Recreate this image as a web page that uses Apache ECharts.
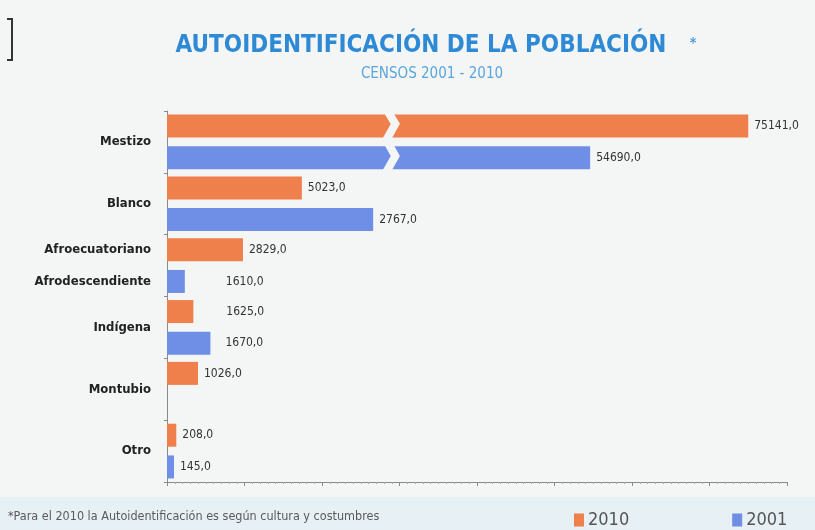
<!DOCTYPE html>
<html>
<head>
<meta charset="utf-8">
<script src="https://cdn.jsdelivr.net/npm/echarts@6/dist/echarts.min.js"></script>
<style>
  html, body { margin: 0; padding: 0; background: #f4f5f5; }
  #main { width: 815px; height: 530px; }
</style>
</head>
<body>
<div id="main"></div>
<script>
'use strict';

// categorias (la fila afro reune los dos nombres)
var categories = ['Mestizo', 'Blanco', 'Afroecuatoriano\nAfrodescendiente', 'Indígena', 'Montubio', 'Otro'];

// cifras impresas junto a cada barra
var printed2010 = [75141.0, 5023.0, 2829.0, 1625.0, 1026.0, 208.0];
var printed2001 = [54690.0, 2767.0, 1610.0, 1670.0, null, 145.0];

// largo de las barras tal como estan dibujadas (unidades del eje sin rotulos, 0-8)
var drawn2010 = [7.50, 1.74, 0.98, 0.34, 0.40, 0.12];
var drawn2001 = [5.46, 2.66, 0.23, 0.56, null, 0.09];

var seriesNames = ['2010', '2001'];

var FONT = '"Liberation Sans Narrow", "DejaVu Sans Condensed", "Liberation Sans", sans-serif';

function fmt(v) {
	return v.toFixed(1).replace('.', ',');
}

// algunas etiquetas van alineadas algo mas a la derecha
var labelShift2001 = { 2: 35, 3: 9 };
var labelShift2010 = { 3: 27 };

function buildData(drawn, printed, shift) {
	var res = [];
	for (var i = 0; i < drawn.length; i++) {
		if (drawn[i] == null) {
			res.push('-');
			continue;
		}
		var item = { value: drawn[i], printed: printed[i] };
		if (shift[i]) {
			item.label = { distance: 6 + shift[i] };
		}
		res.push(item);
	}
	return res;
}

var myChart = echarts.init(document.getElementById('main'), null, { renderer: 'canvas' });

var option = {
	backgroundColor: '#f4f5f5',
	animation: false,
	grid: {
		left: 167,
		right: 28,
		top: 111,
		bottom: 48
	},
	legend: {
		left: 569,
		top: 506,
		itemWidth: 10,
		itemHeight: 13,
		itemGap: 103,
		icon: 'rect',
		data: seriesNames,
		textStyle: {
			color: '#555',
			fontSize: 18,
			fontFamily: FONT,
			padding: [0, 0, 0, -1]
		}
	},
	xAxis: {
		type: 'value',
		min: 0,
		max: 8,
		interval: 1,
		axisLine: { show: true, lineStyle: { color: '#8a8a8a', width: 1 } },
		axisTick: { show: true, length: 4, lineStyle: { color: '#8a8a8a' } },
		minorTick: { show: true, splitNumber: 10, length: 2, lineStyle: { color: '#a8a8a8' } },
		axisLabel: { show: false },
		splitLine: { show: false }
	},
	yAxis: {
		type: 'category',
		inverse: true,
		data: categories,
		axisLine: { show: true, lineStyle: { color: '#8a8a8a', width: 1 } },
		axisTick: { show: true, length: 3, inside: false, lineStyle: { color: '#8a8a8a' } },
		axisLabel: {
			margin: 16,
			color: '#222',
			fontSize: 13,
			fontWeight: 'bold',
			fontFamily: FONT,
			lineHeight: 32
		}
	},
	series: [{
		name: seriesNames[0],
		type: 'bar',
		barWidth: 23,
		barGap: '38%',
		itemStyle: { color: '#ef7f4b' },
		data: buildData(drawn2010, printed2010, labelShift2010),
		label: {
			show: true,
			position: 'right',
			distance: 6,
			color: '#333',
			fontSize: 12,
			fontFamily: FONT,
			formatter: function (p) { return fmt(p.data.printed); }
		}
	}, {
		name: seriesNames[1],
		type: 'bar',
		barWidth: 23,
		barGap: '38%',
		itemStyle: { color: '#6f8fe7' },
		data: buildData(drawn2001, printed2001, labelShift2001),
		label: {
			show: true,
			position: 'right',
			distance: 6,
			color: '#333',
			fontSize: 12,
			fontFamily: FONT,
			formatter: function (p) { return fmt(p.data.printed); }
		}
	}]
};

myChart.setOption(option);

// corte del eje sobre las barras de Mestizo, titulos y nota al pie
var breakX = myChart.convertToPixel({ xAxisIndex: 0 }, 2.83);
var rowTop = myChart.convertToPixel({ yAxisIndex: 0 }, 'Mestizo') - 31;

myChart.setOption({
	graphic: [{
		type: 'rect',
		z: -10,
		silent: true,
		shape: { x: 0, y: 497, width: 815, height: 33 },
		style: { fill: '#e7f0f5' }
	}, {
		type: 'polyline',
		z: 100,
		silent: true,
		shape: {
			points: [
				[breakX, rowTop - 2],
				[breakX + 9, rowTop + 13],
				[breakX, rowTop + 29],
				[breakX + 9, rowTop + 45],
				[breakX, rowTop + 61]
			]
		},
		style: { stroke: '#f4f5f5', lineWidth: 8, fill: null }
	}, {
		type: 'polyline',
		silent: true,
		shape: { points: [[7, 19], [12, 19], [12, 60], [7, 60]] },
		style: { stroke: '#333', lineWidth: 2, fill: null }
	}, {
		type: 'text',
		silent: true,
		x: 421,
		y: 46,
		style: {
			text: 'AUTOIDENTIFICACIÓN DE LA POBLACIÓN',
			fill: '#2f8ad6',
			font: 'bold 24px ' + FONT,
			align: 'center',
			verticalAlign: 'middle'
		}
	}, {
		type: 'text',
		silent: true,
		x: 693,
		y: 43,
		style: {
			text: '*',
			fill: '#4a9ade',
			font: 'bold 14px ' + FONT,
			align: 'center',
			verticalAlign: 'middle'
		}
	}, {
		type: 'text',
		silent: true,
		x: 432,
		y: 74,
		style: {
			text: 'CENSOS 2001 - 2010',
			fill: '#5aa6dc',
			font: '15px ' + FONT,
			align: 'center',
			verticalAlign: 'middle'
		}
	}, {
		type: 'text',
		silent: true,
		x: 8,
		y: 517,
		style: {
			text: '*Para el 2010 la Autoidentificación es según cultura y costumbres',
			fill: '#5a5a5a',
			font: '12.5px ' + FONT,
			align: 'left',
			verticalAlign: 'middle'
		}
	}]
});
</script>
</body>
</html>
